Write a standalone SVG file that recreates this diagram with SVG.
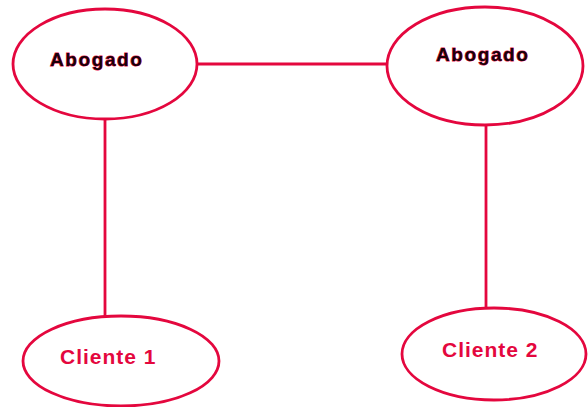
<svg xmlns="http://www.w3.org/2000/svg" width="588" height="407" viewBox="0 0 588 407">
  <style>
    .shape { fill: #ffffff; stroke: #e4073e; stroke-width: 2.8; }
    .link { stroke: #e4073e; stroke-width: 2.8; fill: none; }
    .lawyer { font-family: "Liberation Sans", Arial, sans-serif; font-weight: bold; font-size: 19px; letter-spacing: 1.6px; fill: #1a0008; stroke: #e4073e; stroke-width: 0.9; paint-order: stroke; }
    .client { font-family: "Liberation Sans", Arial, sans-serif; font-weight: bold; font-size: 21px; letter-spacing: 1px; fill: #e4073e; }
  </style>
  <rect width="588" height="407" fill="#ffffff"/>
  <g id="connectors">
    <line class="link" x1="197" y1="64" x2="387" y2="64"/>
    <line class="link" x1="105" y1="118" x2="105" y2="316"/>
    <line class="link" x1="486" y1="124" x2="486" y2="309"/>
  </g>
  <g id="abogado-1">
    <ellipse class="shape" cx="105" cy="64" rx="92" ry="55"/>
    <text class="lawyer" x="50" y="66">Abogado</text>
  </g>
  <g id="abogado-2">
    <ellipse class="shape" cx="485" cy="66" rx="98" ry="59"/>
    <text class="lawyer" x="436" y="61">Abogado</text>
  </g>
  <g id="cliente-1">
    <ellipse class="shape" cx="121" cy="361" rx="98" ry="45"/>
    <text class="client" x="60" y="364">Cliente 1</text>
  </g>
  <g id="cliente-2">
    <ellipse class="shape" cx="494" cy="354" rx="92" ry="46"/>
    <text class="client" x="442" y="357">Cliente 2</text>
  </g>
</svg>
